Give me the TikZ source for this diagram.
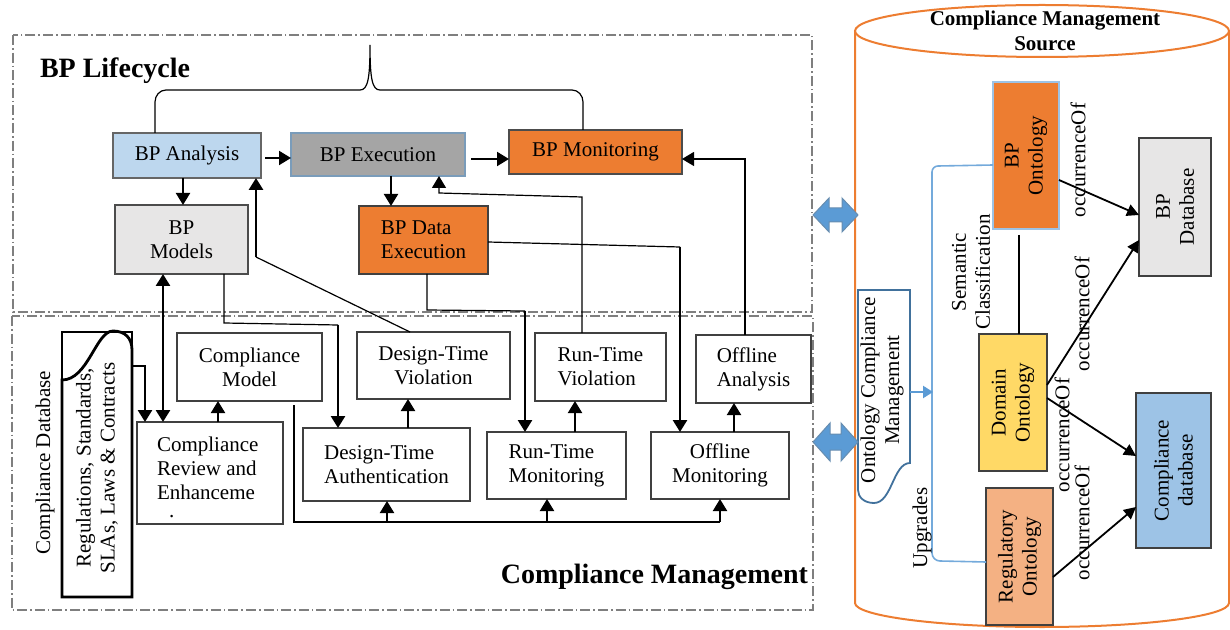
\documentclass[tikz,border=0pt]{standalone}
\usepackage{fontspec}
\setmainfont{Liberation Serif}
\usetikzlibrary{arrows.meta,calc}
\definecolor{cOrange}{HTML}{ED7D31}
\definecolor{cLtBlue}{HTML}{BDD7EE}
\definecolor{cGray}{HTML}{A5A5A5}
\definecolor{cLtGray}{HTML}{E7E6E6}
\definecolor{cYellow}{HTML}{FFD966}
\definecolor{cPeach}{HTML}{F4B183}
\definecolor{cBlueDb}{HTML}{9DC3E6}
\definecolor{cBlue}{HTML}{5B9BD5}
\definecolor{cDkBlue}{HTML}{41719C}
\definecolor{cDash}{HTML}{7F7F7F}
\newcommand\mybox[7]{\node[#6, minimum width={(#4-#2)*0.5pt}, minimum height={(#5-#3)*0.5pt}] (#1) at ({(#2+#4)/2},{(#3+#5)/2}) {#7};}
\begin{document}
\begin{tikzpicture}[x=0.5pt,y=-0.5pt,
 every node/.style={font=\fontsize{10.5}{12}\selectfont, inner sep=0pt, outer sep=0pt},
 box/.style={draw=black!75, line width=0.6pt, align=center},
 lbox/.style={box, align=left},
 tip/.style={-{Triangle[length=6pt,width=7pt]}},
 thk/.style={line width=1pt, tip},
 thn/.style={line width=0.6pt},
 arr/.style={line width=0.9pt, -{Triangle[length=6pt,width=6pt]}},
 grp/.style={draw=cDash, line width=0.6pt, dash pattern=on 5pt off 1.5pt on 0.8pt off 1.5pt},
 rtxt/.style={rotate=90, align=center},
 occ/.style={rotate=90},
 ]
\useasboundingbox (0,0) rectangle (1230,630);
% group frames
\draw[grp] (13,35) rectangle (812,312);
\draw[grp] (12,316) rectangle (813,610);
\node[font=\bfseries\fontsize{14}{16}\selectfont, anchor=base west] (tBPL) at (40,78) {BP Lifecycle};
\node[font=\bfseries\fontsize{14}{16}\selectfont, anchor=base east] (tCM) at (808,583) {Compliance Management};
% cylinder
\draw[cOrange, line width=1pt] (855,31) -- (855,603) .. controls (855,616) and (938.7,627) .. (1042,627) .. controls (1145.3,627) and (1229,616) .. (1229,603) -- (1229,31);
\draw[cOrange, line width=1pt, fill=white] (1042,31) ellipse [x radius=93.5pt, y radius=13pt];
\node[font=\bfseries\fontsize{10.5}{12.5}\selectfont, align=center] (cylT) at (1045,31) {Compliance Management\\Source};
% BP lifecycle boxes
\mybox{ana}{113}{133}{261}{178}{box, fill=cLtBlue, draw=black!60}{BP Analysis}
\mybox{exe}{291}{133}{465}{176}{box, fill=cGray, draw=cDkBlue!70}{BP Execution}
\mybox{mon}{509}{130}{682}{174}{box, fill=cOrange, draw=black!70}{BP Monitoring}
\mybox{mod}{115}{205}{248}{274}{box, fill=cLtGray, draw=black!70}{BP\\Models}
\mybox{dat}{359}{206}{488}{274}{lbox, fill=cOrange}{BP Data\\Execution}
% brace
\draw[thn] (ana.north -| 155,0) -- (155,102) to[out=90,in=180] (166,90) -- (360,90) .. controls (368,90) and (370,78) .. (370,45) .. controls (370,78) and (372,90) .. (380,90) -- (572,90) to[out=0,in=90] (583,102) -- (mon.north -| 583,0);
% compliance boxes
\mybox{cmod}{177}{333}{322}{401}{box}{Compliance\\Model}
\mybox{crev}{137}{422}{283}{524}{box}{}
\node[align=left, anchor=north west] (crevT) at (157,437) {Compliance\\Review and\\Enhanceme\\[-3pt]\hspace*{6pt}.};
\mybox{dtv}{357}{332}{510}{399}{box}{Design-Time\\Violation}
\mybox{dta}{303}{428}{470}{501}{lbox}{Design-Time\\Authentication}
\mybox{rtv}{535}{333}{666}{401}{lbox}{Run-Time\\Violation}
\mybox{rtm}{487}{432}{626}{499}{lbox}{Run-Time\\Monitoring}
\mybox{ofa}{696}{335}{811}{403}{lbox}{Offline\\Analysis}
\mybox{ofm}{651}{432}{789}{499}{box}{Offline\\Monitoring}
% compliance database document
\draw[thn] (62,380) -- (62,332) -- (132,332) -- (132,348);
\draw[line width=1.4pt] (62,380) .. controls (88,380) and (96,331) .. (113,331) .. controls (125,331) and (132,338) .. (132,350) -- (132,597) -- (62,597) -- cycle;
\node[rtxt] (regT) at (97,468) {Regulations, Standards,\\SLAs, Laws \& Contracts};
\node[rotate=90] (cdbL) at (45,463) {Compliance Database};
\coordinate (docOut) at (132,366);
\draw[thk, line width=1.3pt] (docOut) -- (145,366) -- (crev.north -| 145,0);
% lifecycle connectors
\draw[thk] ($(ana.east |- 0,158)+(4,0)$) -- (exe.west |- 0,158);
\draw[thk] ($(exe.east |- 0,159)+(6,0)$) -- (mon.west |- 0,159);
\draw[thk] (ana.south -| 183,0) -- (mod.north -| 183,0);
\draw[thk] (exe.south -| 391,0) -- (dat.north -| 391,0);
\coordinate (k1) at (256,257);
\draw[thn] (dtv.north -| 410,0) -- (k1);
\draw[thk, line width=1.4pt] (k1) -- (ana.south -| k1);
\draw[thn, tip] (rtv.north -| 582,0) -- (582,197) -- (439,193) -- (exe.south -| 439,0);
\draw[thn, tip] (ofa.north -| 745,0) -- (745,159) -- (mon.east |- 0,159);
\coordinate (k2) at (680,247);
\draw[thn] (dat.east |- 0,242) -- (k2);
\draw[thk, line width=1.3pt] (k2) -- (ofm.north -| k2);
\coordinate (k3) at (525,311);
\draw[thn] (dat.south -| 427,0) -- (427,310) -- (k3);
\draw[thk, line width=1.3pt] (k3) -- (rtm.north -| k3);
\draw[line width=1.3pt, {Triangle[length=6pt,width=7pt]}-{Triangle[length=6pt,width=7pt]}] (mod.south -| 163,0) -- (crev.north -| 163,0);
\coordinate (k4) at (338,325);
\draw[thn] (mod.south -| 224,0) -- (224,323) -- (k4);
\draw[thk, line width=1.3pt] (k4) -- (dta.north -| k4);
% compliance connectors
\draw[thk] (crev.north -| 218,0) -- (cmod.south -| 218,0);
\draw[thk] (dta.north -| 408,0) -- (dtv.south -| 408,0);
\draw[thk] (rtm.north -| 575,0) -- (rtv.south -| 575,0);
\draw[thk] (ofm.north -| 734,0) -- (ofa.south -| 734,0);
\coordinate (b0) at (294,405);
\coordinate (b1) at (294,522);
\coordinate (b2) at (720,522);
\draw[line width=0.8pt] (b0) -- (b1) -- (b2);
\draw[thk] (387,522) -- (dta.south -| 387,0);
\draw[thk] (547,522) -- (rtm.south -| 547,0);
\draw[thk] (b2) -- (ofm.south -| b2);
% right side boxes
\mybox{bpo}{993}{82}{1059}{229}{box, fill=cOrange, draw=cBlue!60}{}
\node[rtxt] (bpoT) at (bpo) {BP\\Ontology};
\mybox{bpd}{1139}{138}{1211}{276}{box, fill=cLtGray}{}
\node[rtxt] (bpdT) at (bpd) {BP\\Database};
\mybox{dom}{979}{334}{1047}{471}{box, fill=cYellow}{}
\node[rtxt] (domT) at (dom) {Domain\\Ontology};
\mybox{reg}{986}{488}{1053}{625}{box, fill=cPeach}{}
\node[rtxt] (regOT) at (reg) {Regulatory\\Ontology};
\mybox{cdb}{1136}{393}{1211}{548}{box, fill=cBlueDb}{}
\node[rtxt] (cdbT) at (cdb) {Compliance\\database};
% ontology compliance management
\draw[cDkBlue, line width=0.9pt, fill=white] (858,290) -- (910,290) -- (910,463) .. controls (893,463) and (892,503) .. (874,503) .. controls (864,503) and (858,497) .. (858,490) -- cycle;
\node[rtxt] (ocmT) at (882,390) {Ontology Compliance\\Management};
\coordinate (ocmR) at (910,392);
\draw[cBlue!85, line width=0.8pt] (bpo.west |- 0,165) -- (938,166) to[out=180,in=90] (932,172) -- (932,553) to[out=-90,in=180] (940,561) -- (reg.west |- 0,562);
\draw[cBlue, line width=1.2pt, -{Triangle[length=5pt,width=6pt]}] (ocmR) -- (933,392);
\draw[thn] ($(bpo.south -| 1019,0)+(0,6)$) -- (dom.north -| 1019,0);
\draw[arr] (bpo.east |- 0,180) -- (bpd.west |- 0,215);
\draw[arr] (dom.east |- 0,385) -- (bpd.west |- 0,240);
\draw[arr] (dom.east |- 0,398) -- (cdb.west |- 0,456);
\draw[arr] (reg.east |- 0,577) -- (cdb.west |- 0,507);
\node[occ] (o1) at (1078,160) {occurrenceOf};
\node[occ] (o2) at (1082,314) {occurrenceOf};
\node[occ] (o3) at (1062,435) {occurrenceOf};
\node[occ] (o4) at (1082,523) {occurrenceOf};
\node[rtxt] (semT) at (971,272) {Semantic\\Classification};
\node[occ] (upT) at (922,528) {Upgrades};
% blue double arrows
\filldraw[fill=cBlue, draw=cDkBlue!80, line width=0.5pt] (813,215) -- (829,198) -- (829,208) -- (842,208) -- (842,198) -- (858,215) -- (842,232) -- (842,222) -- (829,222) -- (829,232) -- cycle;
\filldraw[fill=cBlue, draw=cDkBlue!80, line width=0.5pt] (813,442) -- (830,423) -- (830,434) -- (841,434) -- (841,423) -- (858,442) -- (841,461) -- (841,450) -- (830,450) -- (830,461) -- cycle;
\end{tikzpicture}
\end{document}
